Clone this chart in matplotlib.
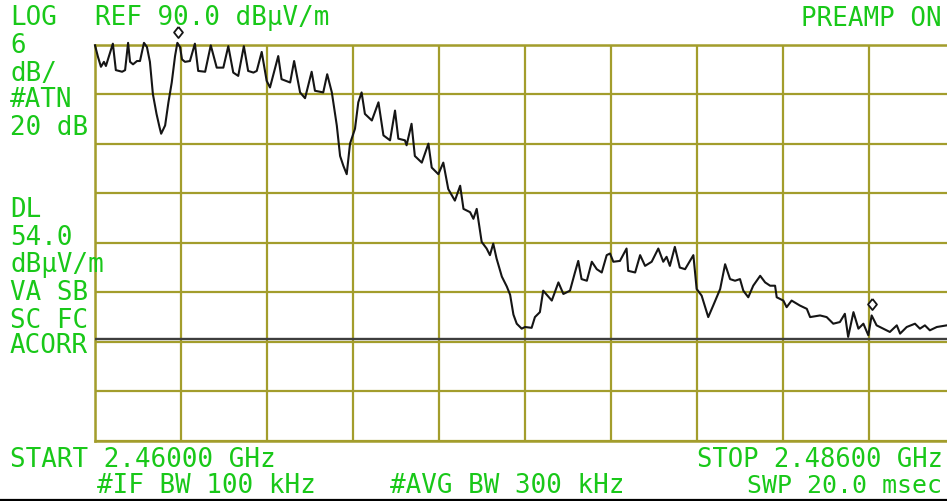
import matplotlib
matplotlib.use('Agg')
import matplotlib.pyplot as plt
import numpy as np
from matplotlib import transforms
from matplotlib.lines import Line2D

# ---------------- data ----------------
start_mhz = 2460.0
stop_mhz = 2486.0
ref_level = 90.0
db_per_div = 6
n_ydiv = 8
n_xdiv = 10
display_line = 54.0

freq_mhz = [
    2460.00, 2460.09, 2460.18, 2460.27, 2460.33, 2460.54, 2460.63, 2460.82, 2460.91, 2461.00,
    2461.06, 2461.15, 2461.27, 2461.36, 2461.48, 2461.57, 2461.66, 2461.75, 2461.86, 2461.95,
    2462.00, 2462.12, 2462.22, 2462.32, 2462.42, 2462.49, 2462.57, 2462.63, 2462.72, 2462.87,
    2463.02, 2463.12, 2463.33, 2463.50, 2463.68, 2463.88, 2464.03, 2464.18, 2464.33, 2464.50,
    2464.63, 2464.79, 2464.89, 2465.04, 2465.19, 2465.29, 2465.54, 2465.64, 2465.90, 2466.02,
    2466.20, 2466.35, 2466.55, 2466.65, 2466.90, 2467.02, 2467.16, 2467.31, 2467.41, 2467.51,
    2467.61, 2467.71, 2467.86, 2467.96, 2468.06, 2468.16, 2468.37, 2468.57, 2468.72, 2468.92,
    2469.07, 2469.17, 2469.37, 2469.42, 2469.57, 2469.67, 2469.88, 2470.08, 2470.18, 2470.38,
    2470.53, 2470.68, 2470.88, 2471.04, 2471.14, 2471.34, 2471.44, 2471.54, 2471.69, 2471.84,
    2471.94, 2472.04, 2472.14, 2472.30, 2472.45, 2472.55, 2472.65, 2472.75, 2472.90, 2473.00,
    2473.20, 2473.30, 2473.45, 2473.55, 2473.81, 2473.91, 2474.01, 2474.16, 2474.36, 2474.51,
    2474.61, 2474.71, 2474.87, 2475.02, 2475.17, 2475.32, 2475.47, 2475.57, 2475.67, 2475.87,
    2476.07, 2476.12, 2476.33, 2476.48, 2476.63, 2476.83, 2477.03, 2477.18, 2477.28, 2477.38,
    2477.53, 2477.68, 2477.84, 2478.09, 2478.19, 2478.34, 2478.54, 2478.69, 2478.90, 2479.05,
    2479.20, 2479.35, 2479.50, 2479.60, 2479.75, 2479.90, 2480.11, 2480.26, 2480.41, 2480.56,
    2480.61, 2480.81, 2480.91, 2481.06, 2481.31, 2481.52, 2481.62, 2481.92, 2482.12, 2482.32,
    2482.52, 2482.67, 2482.77, 2482.93, 2483.08, 2483.23, 2483.38, 2483.48, 2483.63, 2483.83,
    2484.03, 2484.24, 2484.34, 2484.54, 2484.79, 2484.94, 2485.09, 2485.24, 2485.45, 2485.75,
    2486.00,
]
level_dbuv = [
    89.9, 88.5, 87.3, 87.9, 87.4, 90.1, 86.9, 86.7, 86.9, 90.2,
    87.9, 87.6, 88.0, 88.0, 90.2, 89.7, 87.9, 84.0, 81.6, 80.0,
    79.2, 80.2, 83.0, 85.4, 88.6, 90.2, 89.7, 88.2, 87.9, 88.0,
    90.1, 86.8, 86.7, 89.9, 87.2, 87.2, 89.8, 86.6, 86.2, 89.8,
    86.8, 86.6, 86.8, 89.1, 85.6, 84.8, 88.6, 85.8, 85.4, 88.0,
    84.2, 83.5, 86.7, 84.4, 84.2, 86.4, 84.2, 80.2, 76.5, 75.3,
    74.3, 78.0, 79.8, 83.0, 84.2, 81.6, 80.8, 83.0, 79.0, 78.4,
    82.0, 78.6, 78.4, 77.8, 80.4, 76.5, 75.7, 78.0, 75.1, 74.3,
    75.7, 72.5, 71.1, 72.9, 70.1, 69.7, 68.9, 70.1, 66.1, 65.3,
    64.5, 65.9, 64.1, 61.9, 60.7, 59.7, 57.3, 56.2, 55.6, 55.8,
    55.7, 57.0, 57.6, 60.2, 59.0, 60.1, 61.2, 59.8, 60.2, 62.4,
    63.8, 61.6, 61.4, 63.7, 62.8, 62.4, 64.5, 64.7, 63.7, 63.8,
    65.3, 62.6, 62.4, 64.5, 63.2, 63.7, 65.3, 63.7, 64.3, 63.2,
    65.5, 63.0, 62.8, 64.5, 60.4, 59.6, 57.0, 58.4, 60.4, 63.4,
    61.6, 61.4, 61.6, 60.2, 59.4, 60.8, 62.0, 61.2, 60.8, 60.8,
    59.4, 59.0, 58.2, 59.0, 58.4, 58.0, 57.0, 57.2, 57.0, 56.2,
    56.4, 57.4, 54.6, 57.6, 55.6, 56.2, 54.8, 57.2, 56.0, 55.6,
    55.2, 56.0, 55.0, 55.8, 56.2, 55.6, 56.0, 55.4, 55.8, 56.0,
    56.0,
]
marker_freq = [2462.49, 2483.48]
marker_level = [90.2, 57.2]

header_left = ["LOG", "6", "dB/", "#ATN", "20 dB"]
header_left2 = ["DL", "54.0", "dB\u00b5V/m", "VA SB", "SC FC", "ACORR"]
ref_text = "REF 90.0 dB\u00b5V/m"
preamp_text = "PREAMP ON"
start_text = "START 2.46000 GHz"
stop_text = "STOP 2.48600 GHz"
ifbw_text = "#IF BW 100 kHz"
avgbw_text = "#AVG BW 300 kHz"
swp_text = "SWP 20.0 msec"

# ---------------- style ----------------
W, H = 947, 502
GREEN = '#19c819'
OLIVE = '#a39d2c'
TRACE = '#151515'
DLCOL = '#3e3e3e'
FONT = dict(family='DejaVu Sans Mono', size=18.6, color=GREEN)
dl_offset_db = 0.3  # display line drawn a hair above its grid line, as on screen

fig = plt.figure(figsize=(W / 100, H / 100), dpi=100)
fig.patch.set_facecolor('white')

ax_left, ax_top, ax_w, ax_h = 95, 45.5, 860, 396.5
ax = fig.add_axes([ax_left / W, (H - ax_top - ax_h) / H, ax_w / W, ax_h / H])
ax.set_xlim(start_mhz, stop_mhz)
ax.set_ylim(ref_level - n_ydiv * db_per_div, ref_level)
ax.set_xticks(np.linspace(start_mhz, stop_mhz, n_xdiv + 1))
ax.set_yticks(np.linspace(ref_level - n_ydiv * db_per_div, ref_level, n_ydiv + 1))
ax.tick_params(length=0, labelbottom=False, labelleft=False)
ax.grid(True, color=OLIVE, lw=1.6)
for s in ax.spines.values():
    s.set_color(OLIVE)
    s.set_linewidth(1.8)
ax.set_facecolor('white')

ax.axhline(display_line + dl_offset_db, color=DLCOL, lw=1.7, zorder=3)
ax.plot(freq_mhz, level_dbuv, color=TRACE, lw=1.5, zorder=4, clip_on=False)

mk = [(0, 1), (0.8, 0), (0, -1), (-0.8, 0), (0, 1)]
off = transforms.offset_copy(ax.transData, fig=fig, x=0.5, y=11, units='dots')
ax.plot(marker_freq, marker_level, linestyle='none', marker=mk, markersize=8,
        mfc='white', mec=TRACE, mew=1.3, transform=off, zorder=5, clip_on=False)


def ftext(x, y, s, **kw):
    f = dict(FONT)
    f.update(kw)
    fig.text(x / W, 1 - y / H, s, ha='left', va='baseline', zorder=10, **f)


for s, yb in zip(header_left, [25, 53, 81, 107, 135]):
    ftext(10, yb, s)
for s, yb in zip(header_left2, [217, 245, 272, 300, 328, 353]):
    ftext(10, yb, s)
ftext(95, 25, ref_text)
ftext(801, 26, preamp_text)
ftext(10, 467, start_text)
ftext(697, 467, stop_text, size=18.4)
ftext(97, 493, ifbw_text)
ftext(390, 493, avgbw_text)
ftext(747, 493, swp_text, size=17.9)

fig.add_artist(Line2D([0, 1], [0.8 / H, 0.8 / H], transform=fig.transFigure,
                      color='black', lw=1.6))

fig.savefig('out.png', dpi=100, facecolor='white')
